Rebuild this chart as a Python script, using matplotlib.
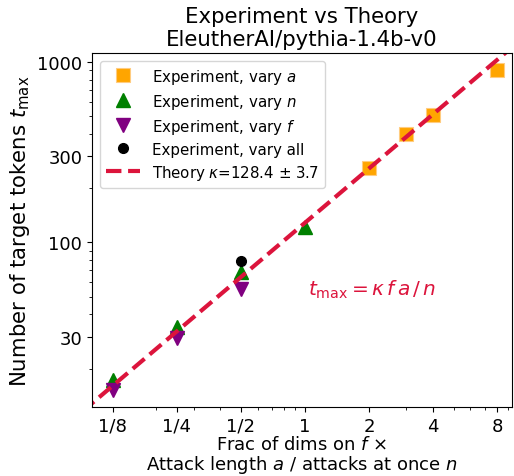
import numpy as np
import matplotlib
matplotlib.use("Agg")
import matplotlib.pyplot as plt

# data
vary_a_x = [2, 3, 4, 8]
vary_a_y = [259, 400, 510, 903]
vary_n_x = [1/8, 1/4, 1/2, 1]
vary_n_y = [17.3, 33.9, 69, 122.6]
vary_f_x = [1/8, 1/4, 1/2]
vary_f_y = [15.2, 29.5, 55]
vary_all_x = [1/2]
vary_all_y = [78.5]
kappa = 128.4
kappa_err = 3.7

xticks = [1/8, 1/4, 1/2, 1, 2, 4, 8]
xtick_labels = ["1/8", "1/4", "1/2", "1", "2", "4", "8"]
yticks = [30, 100, 300, 1000]
ytick_labels = ["30", "100", "300", "1000"]

fig = plt.figure(figsize=(5.14, 4.77), dpi=100)
ax = fig.add_axes([0.179, 0.1447, 0.817, 0.742])

ax.set_xscale("log")
ax.set_yscale("log")

ax.plot(vary_a_x, vary_a_y, "s", color="orange", markersize=10,
        markeredgecolor="#ffcc80", markeredgewidth=0.8, label="Experiment, vary $a$")
ax.plot(vary_n_x, vary_n_y, "^", color="green", markersize=10, label="Experiment, vary $n$")
ax.plot(vary_f_x, vary_f_y, "v", color="purple", markersize=10, label="Experiment, vary $f$")
ax.plot(vary_all_x, vary_all_y, "o", color="black", markersize=7, label="Experiment, vary all")

xx = np.array([0.09, 10.0])
ax.plot(xx, kappa * xx, "--", color="crimson", linewidth=3,
        label=r"Theory $\kappa$=%.1f $\pm$ %.1f" % (kappa, kappa_err))

ax.set_xlim(0.1, 9.4)
ax.set_ylim(12.25, 1122)

ax.set_xticks(xticks)
ax.set_xticklabels(xtick_labels)
ax.set_yticks(yticks)
ax.set_yticklabels(ytick_labels)
ax.tick_params(labelsize=13)

ax.set_xlabel("Frac of dims on $f$ \u00d7\nAttack length $a$ / attacks at once $n$",
              fontsize=13, labelpad=0, linespacing=1.0)
ax.set_ylabel(r"Number of target tokens $t_{\max}$", fontsize=15.3)
ax.set_title("Experiment vs Theory\nEleutherAI/pythia-1.4b-v0", fontsize=15.3)

ax.text(0.667, 0.333, r"$t_{\max} = \kappa\, f\, a\, /\, n$", transform=ax.transAxes,
        color="crimson", fontsize=14.5, ha="center", va="center")

ax.legend(loc="upper left", fontsize=10.8, handlelength=2.3, labelspacing=0.4)

fig.savefig("out.png", dpi=100)
